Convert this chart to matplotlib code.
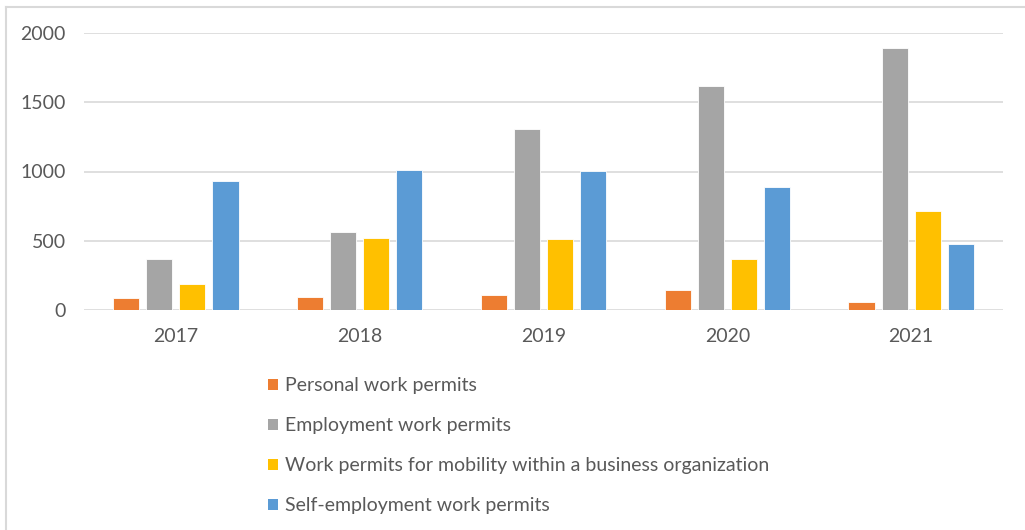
import matplotlib.pyplot as plt
import numpy as np
from matplotlib.patches import Patch
from matplotlib.lines import Line2D

years = ['2017', '2018', '2019', '2020', '2021']
personal = [85, 94, 110, 145, 61]
employment = [365, 560, 1310, 1620, 1893]
mobility = [191, 520, 515, 365, 712]
self_employment = [931, 1013, 1005, 885, 480]

series_names = ['Personal work permits',
                'Employment work permits',
                'Work permits for mobility within a business organization',
                'Self-employment work permits']
colors = ['#ED7D31', '#A5A5A5', '#FFC000', '#5B9BD5']

plt.rcParams['font.family'] = ['Lato', 'DejaVu Sans']
text_col = '#595959'

fig = plt.figure(figsize=(10.25, 5.3), dpi=100)
ax = fig.add_axes([84 / 1025, 1 - 310 / 530, 919 / 1025, 277 / 530])

x = np.arange(len(years))
slot = 0.18
width = 0.142
for i, (vals, c) in enumerate(zip([personal, employment, mobility, self_employment], colors)):
    ax.bar(x + (i - 1.5) * slot, vals, width, color=c, edgecolor='white', linewidth=0.6, zorder=3)

ax.set_xlim(-0.5, len(years) - 0.5)
ax.set_ylim(0, 2000)
ax.set_yticks([0, 500, 1000, 1500, 2000])
ax.set_xticks(x)
ax.set_xticklabels(years)
ax.grid(axis='y', color='#d9d9d9', linewidth=1.2, zorder=0)
for s in ax.spines.values():
    s.set_visible(False)
ax.tick_params(length=0, labelsize=14, colors=text_col)
ax.tick_params(axis='y', pad=13)
ax.tick_params(axis='x', pad=13)

# legend below the chart
handles = [Patch(facecolor=c, edgecolor='none') for c in colors]
fig.legend(handles, series_names, loc='upper left', bbox_to_anchor=(268 / 1025, 1 - 377 / 530),
           frameon=False, fontsize=14, labelcolor=text_col, handlelength=0.5, handleheight=0.5,
           handletextpad=0.35, labelspacing=1.19, borderpad=0, borderaxespad=0)

# chart border
fig.add_artist(Line2D([6 / 1025, 6 / 1025], [0, 1 - 7 / 530], color='#d9d9d9', linewidth=1.5))
fig.add_artist(Line2D([6 / 1025, 1], [1 - 7 / 530, 1 - 7 / 530], color='#d9d9d9', linewidth=1.5))

fig.savefig('out.png', dpi=100)
